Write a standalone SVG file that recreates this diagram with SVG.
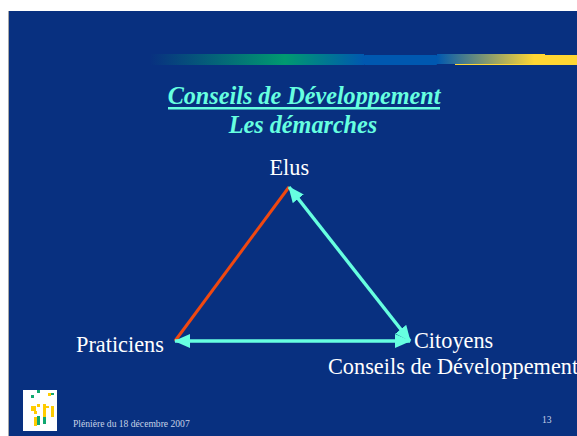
<svg xmlns="http://www.w3.org/2000/svg" width="577" height="436" viewBox="0 0 577 436">
<style>
text{font-family:"Liberation Serif","Times New Roman",serif}
.lbl{font-size:22.3px;fill:#fff}
.ttl{font-size:24.2px;font-weight:bold;font-style:italic;fill:#66ffe0}
.sm{font-size:9.6px;fill:#c6d2e6}
.c{stroke:#66ffe0;stroke-width:3.4;fill:none;marker-start:url(#a);marker-end:url(#a)}
</style>
<defs>
<linearGradient id="g1" x1="0" x2="1" y1="0" y2="0"><stop offset="0" stop-color="#083080"/><stop offset=".63" stop-color="#009a70"/><stop offset="1" stop-color="#0058b0"/></linearGradient>
<linearGradient id="g2" x1="0" x2="1" y1="0" y2="0"><stop offset="0" stop-color="#0058b0"/><stop offset=".9" stop-color="#ffd633"/><stop offset="1" stop-color="#ffd633"/></linearGradient>
<marker id="a" viewBox="0 0 16 14" refX="15" refY="7" markerWidth="16" markerHeight="14" markerUnits="userSpaceOnUse" orient="auto-start-reverse"><path d="M0 0L16 7L0 14Z" fill="#66ffe0"/></marker>
</defs>
<rect width="577" height="436" fill="#fff"/>
<rect x="8" y="11" width="1.5" height="425" fill="#a8a8a8"/>
<rect x="9" y="11" width="568" height="425" fill="#083080"/>
<g id="band">
<rect x="150" y="54" width="214" height="11" fill="url(#g1)"/>
<rect x="437" y="54" width="108" height="10" fill="url(#g2)"/>
<rect x="455" y="64" width="90" height="1" fill="#ffd633"/>
<rect x="364" y="55" width="73" height="10" rx="1" fill="#0058b0"/>
<rect x="545" y="55" width="32" height="10" fill="#ffd633"/>
</g>
<g id="title">
<text class="ttl" x="304" y="104" text-anchor="middle">Conseils de Développement</text>
<rect x="168" y="107" width="272" height="2.5" fill="#66ffe0"/>
<text class="ttl" x="303" y="133" text-anchor="middle">Les démarches</text>
</g>
<g id="connectors">
<line x1="175" y1="341" x2="289" y2="187" stroke="#f04810" stroke-width="3"/>
<line class="c" x1="289" y1="187" x2="410" y2="341"/>
<line class="c" x1="175" y1="341" x2="410" y2="341"/>
</g>
<g id="node-elus"><text class="lbl" x="269.500" y="175">Elus</text></g>
<g id="node-praticiens"><text class="lbl" x="76" y="352">Praticiens</text></g>
<g id="node-citoyens"><text class="lbl" x="414" y="348">Citoyens</text><text class="lbl" x="328" y="374">Conseils de Développement</text></g>
<g id="logo">
<rect x="23" y="390" width="34" height="41" fill="#fff"/>
<g fill="#ffcc00"><rect x="31" y="406" width="5" height="5"/><rect x="37" y="404" width="3" height="3"/><rect x="43" y="404" width="3" height="16"/><rect x="46" y="406" width="3" height="2"/><rect x="51" y="406" width="3" height="11"/><rect x="34" y="411" width="3" height="3"/><rect x="34" y="417" width="3" height="9"/><rect x="48" y="393" width="3" height="3"/></g>
<g fill="#10a870"><rect x="37" y="390" width="3" height="3"/><rect x="31" y="395" width="3" height="3"/><rect x="51" y="393" width="3" height="2"/><rect x="37" y="416" width="3" height="9"/><rect x="43" y="417" width="3" height="7"/></g>
</g>
<g id="footer">
<text class="sm" x="73" y="427">Plénière du 18 décembre 2007</text>
<text class="sm" x="542" y="423">13</text>
</g>
</svg>
